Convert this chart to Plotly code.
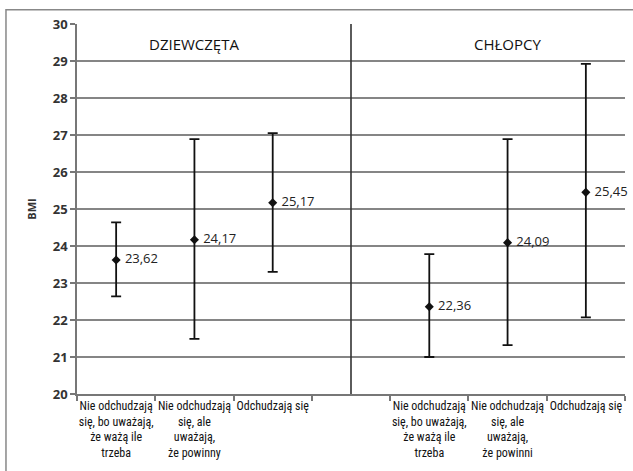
import plotly.graph_objects as go

# Mean BMI with spread, girls (left panel) and boys (right panel)
groups = ["DZIEWCZĘTA", "CHŁOPCY"]
categories_girls = [
    "Nie odchudzają<br>się, bo uważają,<br>że ważą ile<br>trzeba",
    "Nie odchudzają<br>się, ale<br>uważają,<br>że powinny",
    "Odchudzają się",
]
categories_boys = [
    "Nie odchudzają<br>się, bo uważają,<br>że ważą ile<br>trzeba",
    "Nie odchudzają<br>się, ale<br>uważają,<br>że powinni",
    "Odchudzają się",
]
mean_girls = [23.62, 24.17, 25.17]
upper_girls = [24.64, 26.89, 27.05]
lower_girls = [22.64, 21.49, 23.30]
mean_boys = [22.36, 24.09, 25.45]
upper_boys = [23.78, 26.89, 28.92]
lower_boys = [21.00, 21.32, 22.07]

# slot positions: three girls' groups, an empty gap slot, three boys' groups
x_girls = [0, 1, 2]
x_gap = 3
x_boys = [4, 5, 6]

tick_font = "Liberation Sans Narrow, Roboto Condensed, Arial Narrow, sans-serif"
ink = "#111111"


def add_series(fig, xs, means, uppers, lowers):
    fig.add_trace(go.Scatter(
        x=xs, y=means,
        mode="markers+text",
        marker=dict(symbol="diamond", size=7, color=ink),
        texttemplate=" %{y:.2f}",
        textposition="middle right",
        textfont=dict(family="Open Sans, sans-serif", size=13, color="#222222"),
        error_y=dict(
            type="data", symmetric=False,
            array=[u - m for u, m in zip(uppers, means)],
            arrayminus=[m - l for m, l in zip(means, lowers)],
            color=ink, thickness=1.8, width=5,
        ),
        cliponaxis=False,
        showlegend=False,
        hoverinfo="skip",
    ))


fig = go.Figure()
add_series(fig, x_girls, mean_girls, upper_girls, lower_girls)
add_series(fig, x_boys, mean_boys, upper_boys, lower_boys)

# divider between the two panels
fig.add_shape(type="line", xref="x", yref="paper", x0=x_gap, x1=x_gap, y0=0, y1=1,
              line=dict(color="#333333", width=1.6), layer="above")

# frame around the whole figure
fig.add_shape(type="rect", xref="paper", yref="paper",
              x0=-0.1296, x1=1.05, y0=-0.25, y1=1.0386,
              line=dict(color="#888888", width=1.5))

# panel titles
for gx, name in zip([x_girls[1], x_boys[1]], groups):
    fig.add_annotation(x=gx, y=0.947, xref="x", yref="paper", text=name,
                       showarrow=False, xanchor="center", yanchor="middle",
                       font=dict(family="Open Sans, sans-serif", size=15, color="#111111"))

tickvals = x_girls + [x_gap] + x_boys
ticktext = categories_girls + [""] + categories_boys

fig.update_layout(
    width=633, height=471,
    margin=dict(l=77, r=8, t=24, b=77),
    paper_bgcolor="white", plot_bgcolor="white",
    separators=", ",
    xaxis=dict(
        range=[-0.5, 6.5],
        tickvals=tickvals, ticktext=ticktext,
        ticks="", showgrid=False, zeroline=False,
        showline=True, linecolor="#777777", linewidth=1.5,
        tickfont=dict(family=tick_font, size=12, color="#111111"),
        minor=dict(tickvals=[i - 0.5 for i in range(8)], ticks="outside",
                   ticklen=5, tickcolor="#777777", tickwidth=1.5, showgrid=False),
        fixedrange=True,
    ),
    yaxis=dict(
        range=[20, 30], dtick=1,
        showgrid=True, gridcolor="#858585", gridwidth=1.8,
        showline=True, linecolor="#777777", linewidth=1.5,
        ticks="outside", ticklen=5, tickcolor="#777777", tickwidth=1.5,
        zeroline=False,
        tickfont=dict(family="Open Sans, sans-serif", size=13, color="#333333", weight="bold"),
        title=dict(text="BMI", standoff=14,
                   font=dict(family="Open Sans, sans-serif", size=11, color="#333333", weight="bold")),
        fixedrange=True,
    ),
)

fig.write_html("out.html")
